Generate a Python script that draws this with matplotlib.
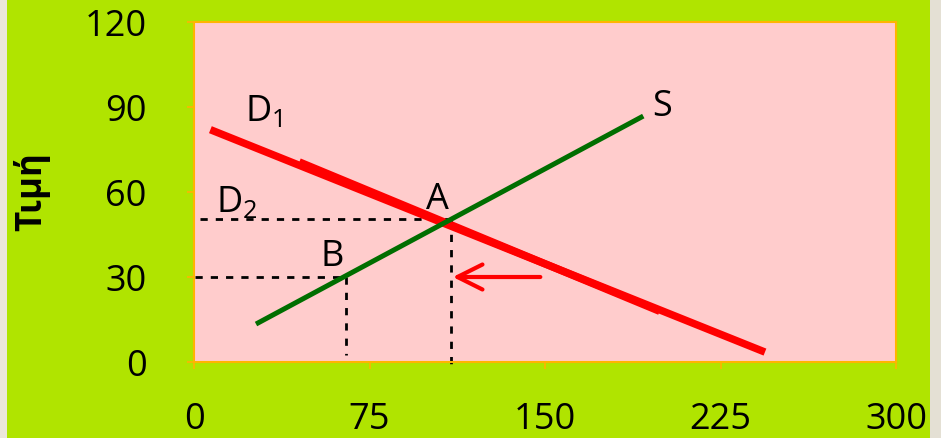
import matplotlib
matplotlib.use("Agg")
import matplotlib.pyplot as plt
from matplotlib.patches import Rectangle

# Supply / demand data (quantity on x, price on y)
d1_q = [7, 244]
d1_p = [82, 3.5]
d2_q = [45, 199]
d2_p = [70.6, 17.9]
s_q = [26.5, 192]
s_p = [13.4, 86.8]

point_a = (110, 50.3)
point_b = (65, 30)
arrow_from = 148

x_ticks = [0, 75, 150, 225, 300]
y_ticks = [0, 30, 60, 90, 120]
y_label = "Τιμή"

LIME = "#b0e400"
PINK = "#ffcccc"
ORANGE = "#ffb400"
RED = "#ff0000"
GREEN = "#006e00"
FONT = ["Open Sans", "DejaVu Sans"]

plt.rcParams["font.family"] = FONT

fig = plt.figure(figsize=(9.41, 4.39), dpi=100, facecolor=LIME)
# pale side strips of the slide frame
fig.patches.append(Rectangle((0, 0), 7 / 941, 1, transform=fig.transFigure,
                             facecolor="#ece7dc", edgecolor="none", zorder=0))
fig.patches.append(Rectangle((930 / 941, 0), 11 / 941, 1, transform=fig.transFigure,
                             facecolor="#e4e0d4", edgecolor="none", zorder=0))

ax = fig.add_axes([194 / 941, 1 - 363 / 439, 702 / 941, 340 / 439])
ax.set_facecolor(PINK)
ax.set_xlim(0, 300)
ax.set_ylim(0, 120)
ax.set_xticks(x_ticks)
ax.set_yticks(y_ticks)
ax.tick_params(axis="both", colors=ORANGE, labelcolor="black", length=5, width=1.2,
               labelsize=26)
ax.tick_params(axis="y", pad=29)
ax.tick_params(axis="x", pad=23)
for sp in ax.spines.values():
    sp.set_color(ORANGE)
    sp.set_linewidth(1.5)

# demand curves
ax.plot(d1_q, d1_p, color=RED, lw=5.4, solid_capstyle="butt", zorder=3)
ax.plot(d2_q, d2_p, color=RED, lw=5.4, solid_capstyle="butt", zorder=3)
# supply curve
ax.plot(s_q, s_p, color=GREEN, lw=3.6, solid_capstyle="butt", zorder=4)

# guide lines to the equilibrium points
dash = dict(color="black", lw=2, linestyle=(0, (2.6, 2.9)), zorder=2)
ax.plot([2.5, point_a[0]], [point_a[1], point_a[1]], **dash)
ax.plot([point_a[0], point_a[0]], [point_a[1], -3], clip_on=False, **dash)
ax.plot([0.5, point_b[0]], [point_b[1], point_b[1]], **dash)
ax.plot([point_b[0], point_b[0]], [point_b[1], 2.5], **dash)

# shift arrow
ax.annotate("", xy=(point_a[0] + 0.6, point_b[1]), xytext=(arrow_from, point_b[1]),
            arrowprops=dict(arrowstyle="->,head_length=1.8,head_width=0.9",
                            color=RED, lw=3, mutation_scale=10,
                            shrinkA=0, shrinkB=0, capstyle="round"),
            zorder=5)

lab = dict(fontsize=26, color="black", zorder=6)
ax.text(22, 85.5, r"D$\mathregular{_1}$", ha="left", va="baseline", **lab)
ax.text(9.5, 53.2, r"D$\mathregular{_2}$", ha="left", va="baseline", **lab)
ax.text(104, 57.5, "A", ha="center", va="center", **lab)
ax.text(59, 37.5, "B", ha="center", va="center", **lab)
ax.text(200, 90.5, "S", ha="center", va="center", **lab)

fig.text(32 / 941, 1 - 192 / 439, y_label, rotation=90, ha="center", va="center",
         fontsize=25, fontweight="bold", color="black")

fig.savefig("out.png", dpi=100, facecolor=LIME)
